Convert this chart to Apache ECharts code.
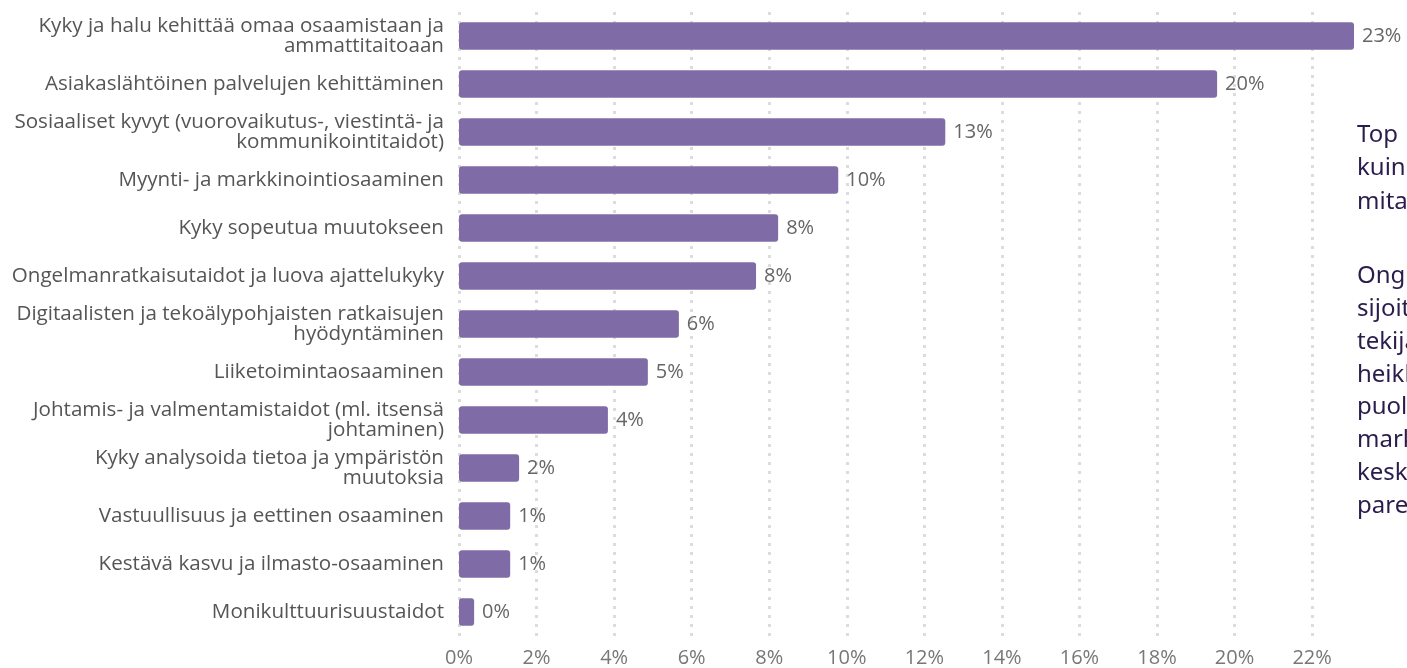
<!DOCTYPE html>
<html>
<head>
<meta charset="utf-8">
<script src="https://cdn.jsdelivr.net/npm/echarts@6/dist/echarts.min.js"></script>
<style>
html,body{margin:0;padding:0;background:#fff;overflow:hidden}
#c{width:1407px;height:668px}
</style>
</head>
<body>
<div id="c"></div>
<script>
const categories = [
  "Kyky ja halu kehittää omaa osaamistaan ja\nammattitaitoaan",
  "Asiakaslähtöinen palvelujen kehittäminen",
  "Sosiaaliset kyvyt (vuorovaikutus-, viestintä- ja\nkommunikointitaidot)",
  "Myynti- ja markkinointiosaaminen",
  "Kyky sopeutua muutokseen",
  "Ongelmanratkaisutaidot ja luova ajattelukyky",
  "Digitaalisten ja tekoälypohjaisten ratkaisujen\nhyödyntäminen",
  "Liiketoimintaosaaminen",
  "Johtamis- ja valmentamistaidot (ml. itsensä\njohtaminen)",
  "Kyky analysoida tietoa ja ympäristön\nmuutoksia",
  "Vastuullisuus ja eettinen osaaminen",
  "Kestävä kasvu ja ilmasto-osaaminen",
  "Monikulttuurisuustaidot"
];
const values = [23.08, 19.55, 12.54, 9.78, 8.23, 7.66, 5.67, 4.87, 3.84, 1.55, 1.32, 1.32, 0.39];
const sidePara1 = ["Top", "kuin", "mita"];
const sidePara2 = ["Ong", "sijoit", "tekijä", "heikk", "puole", "mark", "keski", "parem"];

const chart = echarts.init(document.getElementById('c'));
const sideFont = '24px "Noto Sans"';
const sideGraphics = [];
sidePara1.forEach((t, i) => sideGraphics.push({
  type: 'text', left: 1357, top: 133 + i * 33.5 - 10,
  style: { text: t, font: sideFont, fill: '#2a1d4c' }
}));
sidePara2.forEach((t, i) => sideGraphics.push({
  type: 'text', left: 1357, top: 274 + i * 32.9 - 10,
  style: { text: t, font: sideFont, fill: '#2a1d4c' }
}));
chart.setOption({
  animation: false,
  grid: { left: 459, right: 1407 - 1354, top: 12, bottom: 31, containLabel: false },
  xAxis: {
    type: 'value', min: 0, max: 23.08, interval: 2,
    axisLine: { show: false }, axisTick: { show: false },
    axisLabel: { formatter: v => v + '%', color: '#777', fontSize: 20, fontFamily: 'Open Sans', margin: 12, showMaxLabel: false },
    splitLine: { show: true, showMaxLine: false, lineStyle: { color: '#dcdcdc', type: [3, 6], width: 3 } }
  },
  yAxis: {
    type: 'category', data: categories, inverse: true,
    axisLine: { show: false }, axisTick: { show: false },
    axisLabel: { color: '#555', fontSize: 20.6, fontFamily: 'Open Sans', margin: 15, lineHeight: 20, align: 'right' }
  },
  series: [{
    type: 'bar', data: values, barWidth: '57%',
    itemStyle: { color: '#7f6ba6', borderRadius: 3 },
    label: { show: true, position: 'right', distance: 8, color: '#666', fontSize: 20, fontFamily: 'Open Sans',
      formatter: p => Math.round(p.value) + '%' }
  }],
  graphic: sideGraphics
});
</script>
</body>
</html>
